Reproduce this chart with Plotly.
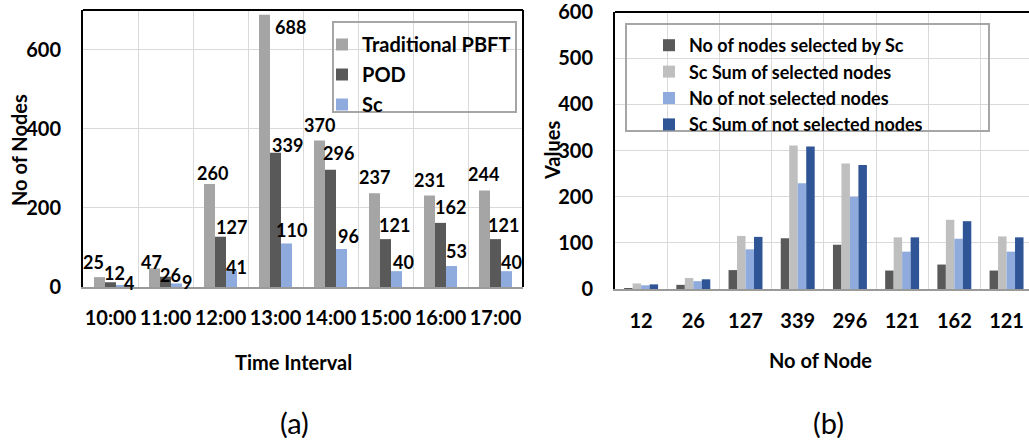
import plotly.graph_objects as go

# ---------------- data ----------------
time_labels = ["10:00", "11:00", "12:00", "13:00", "14:00", "15:00", "16:00", "17:00"]
pbft = [25, 47, 260, 688, 370, 237, 231, 244]
pod = [12, 26, 127, 339, 296, 121, 162, 121]
sc = [4, 9, 41, 110, 96, 40, 53, 40]

node_labels = ["12", "26", "127", "339", "296", "121", "162", "121"]
sel_count = [1, 9, 41, 110, 96, 40, 53, 40]
sel_sum = [12, 24, 115, 311, 272, 112, 150, 114]
notsel_count = [8, 17, 86, 229, 200, 81, 109, 81]
notsel_sum = [10, 21, 113, 309, 269, 112, 147, 112]

# label nudges (px) relative to bar top centre: (dx, dy up)
pbft_dx = [-6, -3, 3, 26, 0, 0, 0, -1]
pbft_dy = [15, 6, 11, -12, 16, 16, 16, 16]
pod_dx = [3.5, 4.5, 11, 12, 8, 9, 9.5, 8]
pod_dy = [9, 2, 10, 8, 17, 14, 16, 14]
sc_dx = [7, 10, 5, 5, 6.5, 6.5, 5, 5]
sc_dy = [2, 1, 4, 13, 13, 9, 15, 9]

FONT = "Lato"
W, H = 1029, 440

def px_x(p):
    return p / W

def px_y(p):
    return (H - p) / H

fig = go.Figure()
xs = list(range(len(time_labels)))

left_series = [
    ("Traditional PBFT", pbft, "#a5a5a5"),
    ("POD", pod, "#595959"),
    ("Sc", sc, "#8faadc"),
]
bw_l = 0.2
for i, (name, vals, col) in enumerate(left_series):
    fig.add_trace(go.Bar(
        x=xs, y=vals, name=name, marker=dict(color=col, line=dict(width=0)),
        width=bw_l, offset=-0.3 + i * bw_l,
        xaxis="x", yaxis="y", legend="legend", legendgroup=name,
    ))

right_series = [
    ("No of nodes selected by Sc", sel_count, "#595959"),
    ("Sc Sum of selected nodes", sel_sum, "#bfbfbf"),
    ("No of not selected nodes", notsel_count, "#8faadc"),
    ("Sc Sum of not selected nodes", notsel_sum, "#2f5597"),
]
bw_r = 0.1625
for i, (name, vals, col) in enumerate(right_series):
    fig.add_trace(go.Bar(
        x=xs, y=vals, name=name, marker=dict(color=col, line=dict(width=0)),
        width=bw_r, offset=-0.325 + i * bw_r,
        xaxis="x2", yaxis="y2", legend="legend2", legendgroup=name,
    ))

# data labels on chart (a)
annotations = []
for i, (vals, dxs, dys) in enumerate([(pbft, pbft_dx, pbft_dy), (pod, pod_dx, pod_dy), (sc, sc_dx, sc_dy)]):
    centre = -0.3 + i * bw_l + bw_l / 2
    for k, v in enumerate(vals):
        annotations.append(dict(
            x=k + centre, y=v, xref="x", yref="y", text=str(v), showarrow=False,
            xanchor="center", yanchor="middle", xshift=dxs[k], yshift=dys[k],
            font=dict(family=FONT, size=18, color="black", weight="bold"),
        ))

title_font = dict(family=FONT, size=20, color="black", weight="bold")
annotations += [
    dict(x=px_x(293), y=px_y(362), xref="paper", yref="paper", text="Time Interval",
         showarrow=False, font=title_font, xanchor="center", yanchor="middle"),
    dict(x=px_x(820), y=px_y(360), xref="paper", yref="paper", text="No of Node",
         showarrow=False, font=title_font, xanchor="center", yanchor="middle"),
    dict(x=px_x(19), y=px_y(150), xref="paper", yref="paper", text="No of Nodes", textangle=-90,
         showarrow=False, font=title_font, xanchor="center", yanchor="middle"),
    dict(x=px_x(552), y=px_y(151), xref="paper", yref="paper", text="Values", textangle=-90,
         showarrow=False, font=title_font, xanchor="center", yanchor="middle"),
    dict(x=px_x(294), y=px_y(422), xref="paper", yref="paper", text="(a)",
         showarrow=False, font=dict(family=FONT, size=29, color="black"), xanchor="center", yanchor="middle"),
    dict(x=px_x(828), y=px_y(422), xref="paper", yref="paper", text="(b)",
         showarrow=False, font=dict(family=FONT, size=29, color="black"), xanchor="center", yanchor="middle"),
]

tick_font = dict(family=FONT, size=20, color="black", weight="bold")
grid = "#d9d9d9"
bounds = [k - 0.5 for k in range(len(xs) + 1)]

fig.update_layout(
    width=W, height=H, margin=dict(l=0, r=0, t=0, b=0, autoexpand=False),
    paper_bgcolor="white", plot_bgcolor="white", barmode="overlay",
    showlegend=True,
    xaxis=dict(domain=[px_x(83), px_x(523)], range=[-0.5, 7.5], tickvals=xs, ticktext=time_labels,
               showgrid=False, minor=dict(tickvals=bounds, showgrid=True, gridcolor=grid, gridwidth=1, ticks=""),
               showline=True, linecolor="#9a9a9a", linewidth=2, tickfont=tick_font, automargin=False,
               ticks="outside", ticklen=12, tickcolor="rgba(0,0,0,0)", zeroline=False, anchor="y"),
    yaxis=dict(domain=[px_y(287), px_y(10)], range=[0, 700], tickvals=[0, 200, 400, 600],
               showgrid=True, gridcolor=grid, gridwidth=1, showline=True, linecolor="black", linewidth=2,
               tickfont=tick_font, ticks="outside", ticklen=16, tickcolor="rgba(0,0,0,0)", automargin=False,
               zeroline=False, anchor="x"),
    xaxis2=dict(domain=[px_x(615), 1.0], range=[-0.5, 7.43], tickvals=xs, ticktext=node_labels,
                showgrid=False, minor=dict(tickvals=bounds, showgrid=True, gridcolor=grid, gridwidth=1, ticks=""),
                showline=True, linecolor="#9a9a9a", linewidth=2, tickfont=tick_font, automargin=False,
                ticks="outside", ticklen=13, tickcolor="rgba(0,0,0,0)", zeroline=False, anchor="y2"),
    yaxis2=dict(domain=[px_y(289), px_y(12)], range=[0, 600.5], tickvals=[0, 100, 200, 300, 400, 500, 600],
                showgrid=True, gridcolor=grid, gridwidth=1, showline=True, linecolor="black", linewidth=2,
                tickfont=tick_font, ticks="outside", ticklen=16, tickcolor="rgba(0,0,0,0)", automargin=False,
                ticklabeloverflow="allow", zeroline=False, anchor="x2"),
    legend=dict(x=px_x(322), y=px_y(25), xanchor="left", yanchor="top", bgcolor="rgba(0,0,0,0)",
                borderwidth=0, font=dict(family=FONT, size=20, color="black", weight="bold"),
                traceorder="grouped", tracegroupgap=1),
    legend2=dict(x=px_x(649), y=px_y(27), xanchor="left", yanchor="top", bgcolor="rgba(0,0,0,0)",
                 borderwidth=0, font=dict(family=FONT, size=18, color="black", weight="bold"),
                 traceorder="grouped", tracegroupgap=0),
    annotations=annotations,
    shapes=[
        # chart (a) frame: top and right edges
        dict(type="line", xref="x domain", yref="y domain", x0=0, x1=1, y0=1, y1=1, line=dict(color="black", width=2)),
        dict(type="line", xref="x domain", yref="y domain", x0=1, x1=1, y0=0, y1=1, line=dict(color="black", width=2)),
        # chart (b) frame: top edge
        dict(type="line", xref="x2 domain", yref="y2 domain", x0=0, x1=1, y0=1, y1=1, line=dict(color="black", width=2)),
        # legend boxes
        dict(type="rect", xref="paper", yref="paper", x0=px_x(333), x1=px_x(516), y0=px_y(112), y1=px_y(22),
             line=dict(color="#a6a6a6", width=2)),
        dict(type="rect", xref="paper", yref="paper", x0=px_x(626), x1=px_x(989), y0=px_y(131), y1=px_y(24),
             line=dict(color="#a6a6a6", width=2)),
    ],
)

# page without body margin so the 1029x440 figure fills the window exactly
no_margin_js = "document.body.style.margin='0';document.documentElement.style.overflow='hidden';"

fig.write_html("out.html", post_script=no_margin_js)
